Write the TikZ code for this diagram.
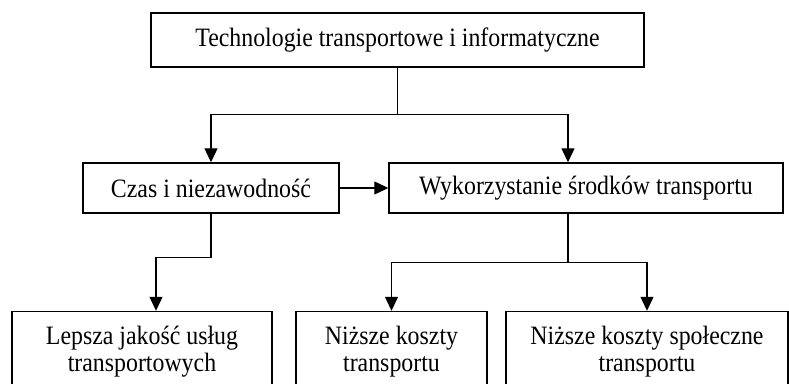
\documentclass[tikz,border=0pt]{standalone}
\usepackage{fontspec}
\setmainfont{Liberation Serif}[FakeStretch=0.9]
\usepackage{tikz}
\usetikzlibrary{arrows.meta,calc}

\begin{document}
\begin{tikzpicture}[x=0.5pt,y=-0.5pt,
    box/.style={draw,line width=0.7pt,inner sep=0pt,align=center,
        font=\fontsize{13.25}{13.5}\selectfont},
    link/.style={line width=0.6pt},
    arr/.style={link,-{Triangle[length=7pt,width=6.5pt]}}]
    \useasboundingbox (0,0) rectangle (789,384);
    \clip (0,0) rectangle (789,384);
    \node[box,minimum width=246.5pt,minimum height=27pt] (tech) at (397.5,40)
        {Technologie transportowe i informatyczne};
    \node[box,minimum width=128pt,minimum height=25pt] (czas) at (211,188)
        {Czas i niezawodność};
    \node[box,minimum width=197pt,minimum height=25pt] (wyk) at (586,188)
        {Wykorzystanie środków transportu};
    \node[box,minimum width=130pt,minimum height=40pt] (lepsza) at (142,351.5)
        {Lepsza jakość usług\\transportowych};
    \node[box,minimum width=95.5pt,minimum height=40pt] (koszty) at (391.5,351.5)
        {Niższe koszty\\transportu};
    \node[box,minimum width=141pt,minimum height=40pt] (spol) at (647,351.5)
        {Niższe koszty społeczne\\transportu};
    \coordinate (t1) at ($(tech.south)+(0,47)$);
    \coordinate (c1) at ($(czas.south)+(0,44)$);
    \coordinate (w1) at ($(wyk.south)+(-18,49)$);
    \draw[link] (tech.south) -- (t1);
    \draw[arr] (t1) -| (czas.north);
    \draw[arr] (t1) -| ($(wyk.north)+(-18,0)$);
    \draw[arr] (czas) -- (wyk);
    \draw[link] (czas.south) -- (c1);
    \draw[arr] (c1) -| ($(lepsza.north)+(14,0)$);
    \draw[link] ($(wyk.south)+(-18,0)$) -- (w1);
    \foreach \n in {koszty,spol} {
     \draw[arr] (w1) -| (\n.north);
    }
\end{tikzpicture}
\end{document}
